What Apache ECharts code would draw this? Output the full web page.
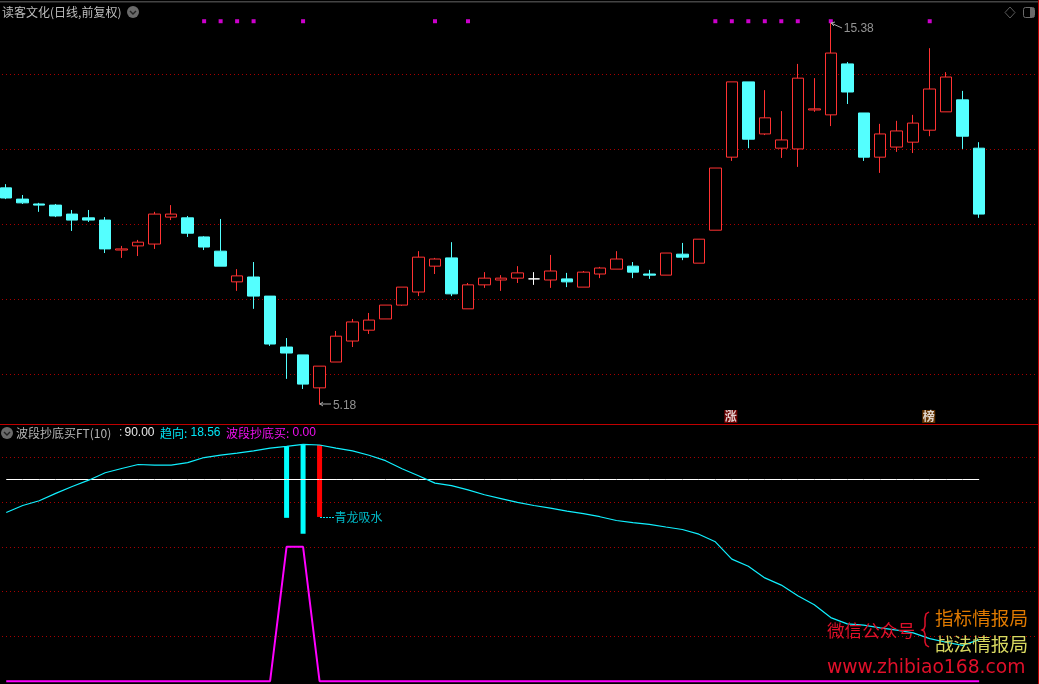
<!DOCTYPE html>
<html>
<head>
<meta charset="utf-8">
<style>html,body{margin:0;padding:0;background:#000}#c{width:1039px;height:684px}</style>
<script src="https://cdn.jsdelivr.net/npm/echarts@6/dist/echarts.min.js"></script>
</head>
<body>
<div id="c"></div>
<script>
const days = [0,1,2,3,4,5,6,7,8,9,10,11,12,13,14,15,16,17,18,19,20,21,22,23,24,25,26,27,28,29,30,31,32,33,34,35,36,37,38,39,40,41,42,43,44,45,46,47,48,49,50,51,52,53,54,55,56,57,58,59,60,61,62];
const opens = [10.97,10.67,10.54,10.51,10.27,10.17,10.11,9.31,9.42,9.47,
10.19,10.17,9.66,9.28,8.46,8.59,8.08,6.72,6.51,5.63,
6.32,6.88,7.17,7.47,7.84,8.19,8.88,9.10,7.74,8.38,
8.51,8.56,8.54,8.51,8.54,8.32,8.67,8.80,8.88,8.67,
8.64,9.20,8.96,9.84,11.79,13.80,12.41,12.03,12.01,13.05,
12.92,14.28,12.97,11.79,12.06,12.19,12.51,13.00,13.32,12.03];
const closes = [10.70,10.57,10.51,10.22,10.11,10.11,9.34,9.34,9.52,10.27,
10.27,9.76,9.39,8.88,8.62,8.08,6.80,6.56,5.73,6.21,
7.01,7.39,7.44,7.84,8.32,9.12,9.07,8.14,8.38,8.56,
8.56,8.70,8.54,8.75,8.46,8.72,8.83,9.07,8.72,8.64,
9.23,9.12,9.60,11.50,13.80,12.27,12.84,12.25,13.90,13.08,
14.57,13.53,11.79,12.41,12.49,12.70,13.61,13.93,12.35,10.27];
const lows = [10.67,10.54,10.33,10.19,9.82,10.06,9.23,9.10,9.15,9.34,
10.11,9.66,9.31,8.88,8.22,7.74,6.75,5.87,5.60,5.18,
6.32,6.72,7.07,7.47,7.82,8.08,8.67,8.08,7.74,8.30,
8.22,8.43,8.38,8.30,8.32,8.32,8.56,8.80,8.56,8.54,
8.64,9.04,8.96,9.84,11.69,12.03,12.38,11.77,11.53,13.00,
12.62,13.21,11.69,11.37,11.93,11.90,12.35,13.00,12.01,10.17];
const highs = [11.07,10.78,10.57,10.54,10.38,10.38,10.19,9.42,9.58,10.33,
10.51,10.22,9.68,10.14,8.80,8.99,8.08,6.96,6.51,6.21,
7.15,7.47,7.63,7.84,8.32,9.28,9.10,9.52,8.43,8.72,
8.64,8.88,8.72,9.18,8.70,8.75,8.86,9.28,8.99,8.78,
9.23,9.50,9.60,11.50,13.80,13.80,13.58,13.02,14.28,13.90,
15.38,14.33,12.97,12.68,12.76,12.92,14.70,14.06,13.56,12.19];
const trend = [75.3,78.4,80.5,83.8,86.9,89.7,93,94.9,96.7,96.4,
96.4,97.5,99.8,100.9,101.8,102.8,104,104.8,105.7,105.4,
104,102.8,100.8,98.4,94.8,91.7,88.4,87.3,85.4,83.2,
81.5,79.8,78.4,77.2,75.9,74.8,73.4,71.7,70.8,70,
68.8,67.7,65.6,62.2,54.5,51.3,46.1,42.9,38.1,34.1,
28.4,25.6,25,23.8,22.8,21.6,19,17.4,16,18.56];
const buyWave = [0,0,0,0,0,0,0,0,0,0,0,0,0,0,0,0,0,60,60,0,0,0,0,0,0,0,0,0,0,0,0,0,0,0,0,0,0,0,0,0,0,0,0,0,0,0,0,0,0,0,0,0,0,0,0,0,0,0,0,0];
const refLine = [90,90,90,90,90,90,90,90,90,90,90,90,90,90,90,90,90,90,90,90,90,90,90,90,90,90,90,90,90,90,90,90,90,90,90,90,90,90,90,90,90,90,90,90,90,90,90,90,90,90,90,90,90,90,90,90,90,90,90,90];
const markDays = [12,13,14,15,18,26,28,43,44,45,46,47,48,50,56];
const markLevel = 15.42;
const signalDays = [17,18,19];
const signalLow = [72.9,65.8,73.3];
const signalHigh = [104.8,105.7,105.4];
const signalColors = ['#00ffff','#00ffff','#ff0000'];
const extremes = [[50,15.38,'15.38',[28,6]],[19,5.18,'5.18',[25,1]]];
const badges = [[44,4.865,'涨','#8a0000',[-1,0]],[56,4.865,'榜','#7a3e00',[-1,0]]];
const noteLabel = [19,73.2,'青龙吸水'];

const CJK = '"Noto Sans CJK SC"';
const LAT = '"Liberation Sans"';
const RED = '#ff3232', CYAN = '#54ffff';
const gridDot = {show:true, showMinLine:false, showMaxLine:false, lineStyle:{color:'#a80000', width:1, type:[1,3]}};

function txt(x,y,text,fill,font,align){
  return {type:'text', z:100, silent:true, style:{x:x,y:y,text:text,fill:fill,font:font,align:align||'left',verticalAlign:'middle'}};
}
function poly(pts,stroke,w,dash){
  return {type:'polyline', z:100, silent:true, shape:{points:pts}, style:{stroke:stroke,lineWidth:w||1,fill:'none',lineDash:dash||null}};
}
function chevronCircle(cx,cy){
  return [
    {type:'circle', z:100, silent:true, shape:{cx:cx,cy:cy,r:6}, style:{fill:'#6a6a6a'}},
    poly([[cx-3,cy-1],[cx,cy+2],[cx+3,cy-1]],'#222',1.4)
  ];
}
const graphics = [
  {type:'rect', z:90, silent:true, shape:{x:0,y:1,width:1039,height:1.5}, style:{fill:'#444'}},
  {type:'rect', z:90, silent:true, shape:{x:0,y:424,width:1039,height:1}, style:{fill:'#c00000'}},
  {type:'rect', z:90, silent:true, shape:{x:1038,y:0,width:1,height:684}, style:{fill:'#c00000'}},
  txt(2,12,'读客文化(日线,前复权)','#bdbdbd','12px '+CJK),
  ...chevronCircle(133,12),
  {type:'polygon', z:100, silent:true, shape:{points:[[1010,7],[1015,12.5],[1010,18],[1005,12.5]]}, style:{stroke:'#5a5a5a',fill:'none',lineWidth:1}},
  {type:'rect', z:100, silent:true, shape:{x:1023.5,y:7.5,width:11,height:10,r:2}, style:{stroke:'#6a6a6a',fill:'none',lineWidth:1}},
  {type:'rect', z:100, silent:true, shape:{x:1030,y:8,width:4,height:9}, style:{fill:'#6a6a6a'}},
  poly([[831,23],[842,28]],'#aaa',1),
  poly([[831,23],[835,22]],'#aaa',1),
  poly([[831,23],[834,26]],'#aaa',1),
  poly([[320,404],[331,404]],'#aaa',1),
  poly([[320,404],[323,402]],'#aaa',1),
  poly([[320,404],[323,406]],'#aaa',1),
  ...chevronCircle(7,433),
  txt(16,433,'波段抄底买FT(10)','#b5b5b5','12px '+CJK),
  txt(119,433,':','#d0d0d0','12px '+LAT),
  txt(124.5,433,'90.00','#e8e8e8','12px '+LAT),
  txt(160,433,'趋向:','#00e5f5','12px '+CJK),
  txt(190.5,433,'18.56','#00e5f5','12px '+LAT),
  txt(226,433,'波段抄底买:','#f010f0','12px '+CJK),
  txt(292.5,433,'0.00','#f010f0','12px '+LAT),
  poly([[320,517.5],[334,517.5]],'#00e5f5',1,[2,1]),
  txt(827,630,'微信公众号','#e0102a','17.6px '+CJK),
  poly([[929,612],[926,614],[925,618],[925,626],[924,629],[922,630],[924,631],[925,634],[925,642],[926,645],[929,647]],'#e0102a',1.5),
  txt(935,618,'指标情报局','#e07a00','18.6px '+CJK),
  txt(935,644,'战法情报局','#d8d860','18.6px '+CJK),
  txt(827,668,'www.zhibiao168.com','#e0102a','18.7px "DejaVu Sans"')
];

const option = {
  backgroundColor:'#000',
  animation:false,
  grid:[
    {left:-2, width:1038.9, top:-0.5, height:449.4, outerBoundsMode:'none', containLabel:false},
    {left:-2, width:1038.9, top:412.25, height:269, outerBoundsMode:'none', containLabel:false}
  ],
  xAxis:[
    {type:'category', gridIndex:0, data:days, show:false, boundaryGap:true},
    {type:'category', gridIndex:1, data:days, show:false, boundaryGap:true}
  ],
  yAxis:[
    {type:'value', gridIndex:0, min:4, max:16, interval:2, axisLabel:{show:false}, axisTick:{show:false}, axisLine:{show:false}, splitLine:gridDot},
    {type:'value', gridIndex:1, min:0, max:120, interval:20, axisLabel:{show:false}, axisTick:{show:false}, axisLine:{show:false}, splitLine:gridDot}
  ],
  graphic:graphics,
  series:[
    {type:'candlestick', xAxisIndex:0, yAxisIndex:0, barWidth:12,
     data:opens.map((o,i)=>[o,closes[i],lows[i],highs[i]]),
     itemStyle:{color:'#000',color0:CYAN,borderColor:RED,borderColor0:CYAN,borderColorDoji:'#ffffff',borderWidth:1}},
    {type:'scatter', xAxisIndex:0, yAxisIndex:0, symbol:'rect', symbolSize:4,
     itemStyle:{color:'#ff00ff'}, z:5,
     data:markDays.map(d=>[d,markLevel])},
    {type:'scatter', xAxisIndex:0, yAxisIndex:0, symbolSize:1, itemStyle:{color:'rgba(0,0,0,0)'}, z:6,
     data:extremes.map(e=>({value:[e[0],e[1]],
       label:{show:true,position:'inside',offset:e[3],formatter:e[2],color:'#b8b8b8',fontSize:12,fontFamily:'Liberation Sans',textBorderWidth:0}}))},
    {type:'scatter', xAxisIndex:0, yAxisIndex:0, symbolSize:1, itemStyle:{color:'rgba(0,0,0,0)'}, z:6,
     data:badges.map(b=>({value:[b[0],b[1]],
       label:{show:true,position:'inside',offset:b[4],formatter:b[2],color:'#ffffff',fontSize:12,fontWeight:'bold',lineHeight:13,padding:[0,0.5],backgroundColor:b[3],fontFamily:'Noto Sans CJK SC',textBorderWidth:0}}))},
    {type:'bar', xAxisIndex:1, yAxisIndex:1, stack:'signal', barWidth:5, silent:true, itemStyle:{color:'rgba(0,0,0,0)'},
     data:days.map(d=>{const k=signalDays.indexOf(d);return k<0?null:signalLow[k];})},
    {type:'bar', xAxisIndex:1, yAxisIndex:1, stack:'signal', barWidth:5, silent:true,
     data:days.map(d=>{const k=signalDays.indexOf(d);return k<0?null:{value:signalHigh[k]-signalLow[k],itemStyle:{color:signalColors[k]}};})},
    {type:'line', xAxisIndex:1, yAxisIndex:1, data:refLine, showSymbol:false, clip:false, lineStyle:{color:'#ffffff',width:1}, z:3},
    {type:'line', xAxisIndex:1, yAxisIndex:1, data:trend, showSymbol:false, clip:false, lineStyle:{color:'#10f0ff',width:1.2}, z:4},
    {type:'line', xAxisIndex:1, yAxisIndex:1, data:buyWave, showSymbol:false, clip:false, lineStyle:{color:'#ff00ff',width:2}, z:4},
    {type:'scatter', xAxisIndex:1, yAxisIndex:1, symbolSize:1, itemStyle:{color:'rgba(0,0,0,0)'}, z:6,
     data:[{value:[noteLabel[0],noteLabel[1]],
       label:{show:true,position:'inside',offset:[39,0],formatter:noteLabel[2],color:'#00e5f5',fontSize:12,fontFamily:'Noto Sans CJK SC',textBorderWidth:0}}]}
  ]
};
echarts.init(document.getElementById('c')).setOption(option);
</script>
</body>
</html>
